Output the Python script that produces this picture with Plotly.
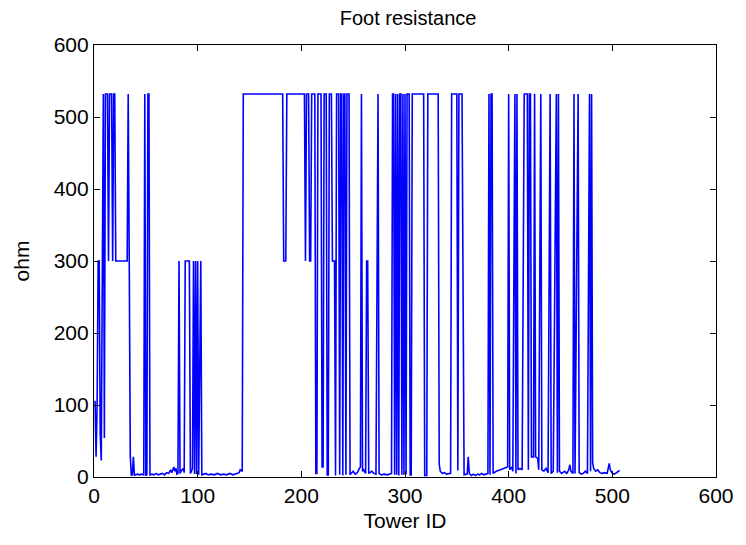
import plotly.graph_objects as go

# Tower IDs and foot resistance (ohm) (line vertices)
tower_id = [
    1, 2, 3, 4, 5, 6, 7, 8, 9, 10, 11, 13, 14, 15, 17, 18, 19, 20, 21, 32, 33, 34, 35, 36, 37, 38, 39, 40, 42, 44, 46, 48,
    49, 50, 51, 52, 53, 54, 56, 58, 60, 62, 64, 66, 68, 70, 72, 74, 75, 77, 78, 79, 80, 81,
    82, 83, 84, 86, 87, 88, 92, 93, 94, 95, 96, 97, 98, 99, 100, 101, 103, 104,
    106, 108, 110, 113, 116, 119, 122, 125, 128, 131, 134, 137, 140, 141, 143,
    144, 182, 183, 185, 186, 203, 204, 205, 207, 208, 209, 210, 213, 214, 215, 216, 219, 220, 221, 222, 224,
    225, 226, 227, 229, 230, 232, 233, 234, 236, 237, 238, 239, 240, 241, 242, 243, 244, 246, 247,
    248, 250, 252, 254, 256, 257, 258, 259, 260, 262, 263, 264, 265, 268, 270, 272, 274, 275, 277, 280, 283, 285, 287,
    288, 289, 290, 291, 292, 293, 294, 295, 296, 297, 298, 299, 300, 301, 302, 303, 304, 305, 306,
    307, 318, 319, 321, 322, 323, 332, 333, 334, 336, 338, 340, 342, 344,
    345, 350, 351, 352, 355, 357, 360, 361, 362, 364, 366, 368, 370, 372, 374, 376, 378, 380,
    381, 382, 383, 384, 385, 388, 392, 396, 399, 400, 401, 403, 404, 406, 407, 408, 409, 411, 413,
    415, 418, 419, 420, 421, 422, 424, 425, 426, 428, 429, 431, 432, 434, 436, 438, 440, 441, 443,
    446, 447, 448, 449, 451, 454, 456, 458, 459, 460, 462, 463, 464, 467, 468, 470, 472, 474, 476,
    478, 479, 480, 481, 482, 484, 486, 488, 490, 492, 495, 497, 498, 500, 502, 504, 506, 507,
]
resistance = [
    106, 28, 100, 300, 300, 60, 23, 300, 532, 54, 532, 532, 300, 532, 532, 300, 532, 532, 300, 300, 532, 300, 30, 2, 3, 28, 2, 3, 4, 3, 4, 3,
    532, 2, 3, 532, 532, 3, 4, 3, 5, 3, 4, 5, 3, 6, 5, 10, 6, 14, 8, 12, 4, 5,
    300, 5, 8, 12, 6, 300, 300, 5, 8, 12, 300, 4, 300, 4, 300, 3, 300, 3,
    4, 5, 3, 4, 3, 5, 3, 4, 3, 5, 3, 4, 6, 10, 8,
    532, 532, 300, 300, 532, 532, 300, 532, 532, 300, 300, 532, 532, 5, 5, 532, 532, 14, 14, 532, 532,
    3, 3, 532, 532, 300, 300, 2, 532, 532, 3, 532, 532, 2, 532, 532, 3, 532, 532, 3,
    5, 8, 4, 6, 12, 14, 532, 8, 10, 5, 300, 300, 5, 8, 5, 4, 532, 5, 3, 4, 3, 4, 5,
    532, 532, 3, 532, 3, 532, 2, 532, 532, 3, 532, 3, 532, 4, 532, 532, 532, 3, 3,
    532, 532, 2, 2, 532, 532, 532, 18, 8, 5, 6, 4, 5, 5,
    532, 532, 9, 532, 532, 3, 4, 28, 5, 2, 4, 2, 4, 3, 5, 3, 4, 5,
    532, 3, 532, 532, 5, 8, 10, 12, 14, 532, 10, 14, 8, 532, 5, 532, 10, 12, 10,
    532, 532, 10, 532, 532, 28, 28, 532, 28, 26, 10, 532, 10, 8, 12, 6, 532, 5, 8,
    532, 6, 532, 8, 5, 8, 5, 10, 17, 8, 5, 532, 5, 532, 6, 4, 5, 8, 5,
    532, 8, 532, 20, 12, 8, 10, 6, 5, 6, 5, 19, 10, 5, 4, 6, 8, 9,
]

axis_ticks = [0, 100, 200, 300, 400, 500, 600]

fig = go.Figure()
fig.add_trace(go.Scatter(
    x=tower_id, y=resistance, mode="lines",
    line=dict(color="#0000FF", width=1.6),
    showlegend=False,
))

font_family = "Liberation Sans, Arial, sans-serif"
axis_common = dict(
    showgrid=False, zeroline=False,
    showline=True, linecolor="black", linewidth=1.2,
    mirror="ticks", ticks="inside", ticklen=6, tickwidth=1.2, tickcolor="black",
    tickfont=dict(family=font_family, size=21, color="black"),
    tickvals=axis_ticks, ticktext=[str(v) for v in axis_ticks],
)

fig.update_layout(
    width=746, height=545,
    paper_bgcolor="white", plot_bgcolor="white",
    margin=dict(l=94, r=24, t=45, b=68),
    title=dict(text="Foot resistance", x=0.547, xanchor="center", y=0.967, yanchor="middle",
               font=dict(family=font_family, size=20, color="black")),
    xaxis=dict(range=[0, 600], title=dict(text="Tower ID", standoff=7,
               font=dict(family=font_family, size=21, color="black")), **axis_common),
    yaxis=dict(range=[0, 600], title=dict(text="ohm", standoff=18,
               font=dict(family=font_family, size=21, color="black")), **axis_common),
)

fig.write_html("out.html")
